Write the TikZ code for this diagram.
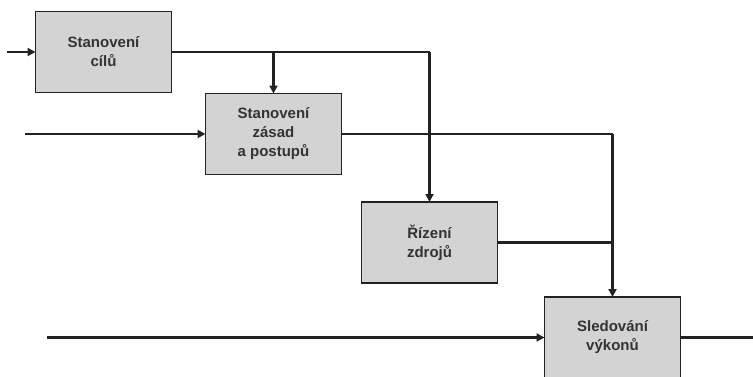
\documentclass[tikz,border=0pt]{standalone}
\usepackage{fontspec}
\setmainfont{Liberation Sans}
\usetikzlibrary{arrows.meta}
\definecolor{boxfill}{HTML}{D3D3D3}
\definecolor{ink}{HTML}{222222}
\definecolor{txt}{HTML}{333333}
\begin{document}
\begin{tikzpicture}[x=1pt,y=-1pt,
  stagebox/.style={draw=ink, line width=1.6pt, fill=boxfill, minimum width=136pt,
    minimum height=81pt, inner sep=0pt, align=center, text=txt,
    font=\fontsize{15}{19}\selectfont\bfseries},
  flow/.style={draw=ink, line width=2.8pt},
  feed/.style={flow, -{Triangle[length=8pt,width=8pt]}, shorten >=-0.8pt}]
\useasboundingbox (0,0) rectangle (753,376);
\begin{scope}
\clip (0,0) rectangle (753,376);
% the four stages of the process
\node[stagebox] (cile)   at (103.5,52)  {Stanovení\\cílů};
\node[stagebox] (zasady) at (273.5,134) {Stanovení\\zásad\\a postupů};
\node[stagebox] (zdroje) at (429.5,242.5) {Řízení\\zdrojů};
\node[stagebox] (vykon)  at (612.5,337.5) {Sledování\\výkonů};
% free ends of the external inputs and the final output
\coordinate (in1) at (7,52);
\coordinate (in2) at (25,134);
\coordinate (in4) at (47,337.5);
\coordinate (out) at (753,337.5);
% branch points
\coordinate (j1) at (zasady.north |- cile.east);
\coordinate (j2) at (zdroje.north |- cile.east);
\coordinate (j3) at (vykon.north |- zasady.east);
\coordinate (j4) at (vykon.north |- zdroje.east);
% connectors
\draw[feed] (in1) -- (cile.west);
\draw[feed] (in2) -- (zasady.west);
\draw[feed] (in4) -- (vykon.west);
\draw[flow] (cile.east) -- (j2);
\draw[feed] (j1) -- (zasady.north);
\draw[feed] (j2) -- (zdroje.north);
\draw[flow] (zasady.east) -- (j3);
\draw[feed] (j3) -- (vykon.north);
\draw[flow] (zdroje.east) -- (j4);
\draw[flow] (vykon.east) -- (out);
\end{scope}
\end{tikzpicture}
\end{document}
